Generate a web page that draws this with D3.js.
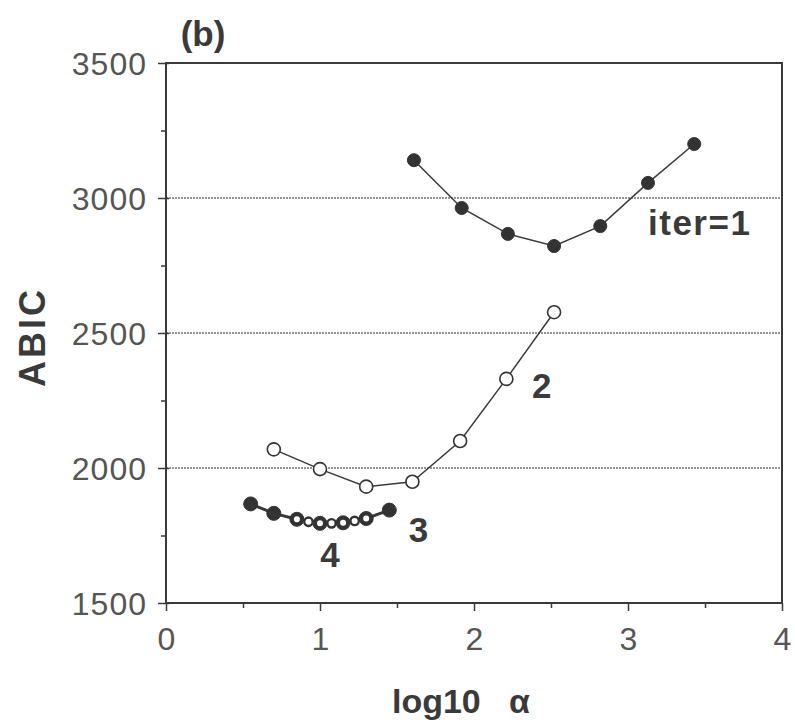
<!DOCTYPE html>
<html>
<head>
<meta charset="utf-8">
<script src="https://cdn.jsdelivr.net/npm/d3@7"></script>
<style>
  body { margin: 0; background: #fff; }
  svg text { font-family: "Liberation Sans", Arial, sans-serif; }
</style>
</head>
<body>
<div id="chart"></div>
<script>
// values (x = log10 alpha, y = ABIC)
var iter1X = [1.61, 1.92, 2.22, 2.52, 2.82, 3.13, 3.43];
var iter1Y = [3140, 2963, 2867, 2822, 2896, 3056, 3200];
var iter2X = [0.70, 1.00, 1.30, 1.60, 1.91, 2.21, 2.52];
var iter2Y = [2069, 1996, 1931, 1949, 2100, 2330, 2577];
var iter3X = [0.55, 0.70, 0.85, 1.00, 1.15, 1.30, 1.45];
var iter3Y = [1867, 1832, 1810, 1795, 1797, 1813, 1844];
var iter4X = [0.85, 0.925, 1.00, 1.075, 1.15, 1.225, 1.30];
var iter4Y = [1810, 1801, 1795, 1795, 1797, 1804, 1813];

var xTicks = [0, 1, 2, 3, 4];
var xMinor = [0.5, 1.5, 2.5, 3.5];
var yTicks = [1500, 2000, 2500, 3000, 3500];
var yMinor = [1750, 2250, 2750, 3250];
var gridVals = [2000, 2500, 3000];

var W = 795, H = 723;
var ink = "#3a3a3a";

var svg = d3.select("#chart").append("svg")
    .attr("width", W)
    .attr("height", H);

var x = d3.scaleLinear().domain([0, 4]).range([166, 782]);
var y = d3.scaleLinear().domain([1500, 3500]).range([603, 63]);

function pts(xs, ys) { return xs.map(function(v, i) { return [v, ys[i]]; }); }

// grid lines (dotted)
svg.append("g").selectAll("line")
  .data(gridVals)
  .enter().append("line")
    .attr("x1", x(0)).attr("x2", x(4))
    .attr("y1", function(d) { return y(d); })
    .attr("y2", function(d) { return y(d); })
    .attr("stroke", "#707070")
    .attr("stroke-width", 1.3)
    .attr("stroke-dasharray", "2,1");

// minor ticks
svg.append("g")
    .attr("transform", "translate(0," + y(1500) + ")")
    .call(d3.axisBottom(x).tickValues(xMinor).tickSize(5).tickFormat(""))
    .call(function(g) { g.select(".domain").remove(); })
    .selectAll("line").attr("stroke", ink).attr("stroke-width", 1.5);
svg.append("g")
    .attr("transform", "translate(" + x(0) + ",0)")
    .call(d3.axisLeft(y).tickValues(yMinor).tickSize(5).tickFormat(""))
    .call(function(g) { g.select(".domain").remove(); })
    .selectAll("line").attr("stroke", ink).attr("stroke-width", 1.5);

// major axes
var xAxis = svg.append("g")
    .attr("transform", "translate(0," + y(1500) + ")")
    .call(d3.axisBottom(x).tickValues(xTicks).tickSize(8).tickPadding(10).tickFormat(d3.format("d")));
var yAxis = svg.append("g")
    .attr("transform", "translate(" + x(0) + ",0)")
    .call(d3.axisLeft(y).tickValues(yTicks).tickSize(8).tickPadding(11).tickFormat(d3.format("d")));

[xAxis, yAxis].forEach(function(g) {
  g.select(".domain").remove();
  g.selectAll("line").attr("stroke", ink).attr("stroke-width", 1.5);
  g.selectAll("text")
    .attr("fill", "#555")
    .style("font-size", "32px");
});
yAxis.selectAll("line").attr("x1", 3);
yAxis.selectAll("text").attr("dy", "0.36em").style("letter-spacing", "1px");
xAxis.selectAll("text").attr("dy", "0.9em");

// frame
svg.append("rect")
    .attr("x", x(0)).attr("y", y(3500))
    .attr("width", x(4) - x(0))
    .attr("height", y(1500) - y(3500))
    .attr("fill", "none")
    .attr("stroke", ink)
    .attr("stroke-width", 2);

var line = d3.line()
    .x(function(d) { return x(d[0]); })
    .y(function(d) { return y(d[1]); });

function drawSeries(data, lw, r, filled, sw) {
  var g = svg.append("g");
  g.append("path")
    .datum(data)
    .attr("d", line)
    .attr("fill", "none")
    .attr("stroke", ink)
    .attr("stroke-width", lw);
  g.selectAll("circle")
    .data(data)
    .enter().append("circle")
      .attr("cx", function(d) { return x(d[0]); })
      .attr("cy", function(d) { return y(d[1]); })
      .attr("r", r)
      .attr("fill", filled ? "#333" : "#fff")
      .attr("stroke", "#333")
      .attr("stroke-width", sw);
}

drawSeries(pts(iter1X, iter1Y), 1.5, 6.5, true, 1);
drawSeries(pts(iter2X, iter2Y), 1.5, 6.5, false, 1.6);
drawSeries(pts(iter3X, iter3Y), 3, 7, true, 1);
drawSeries(pts(iter4X, iter4Y), 2, 4.2, false, 2.4);

// series labels
var labels = [
  { t: "iter=1", x: 3.13, y: 2863, a: "start" },
  { t: "2", x: 2.44, y: 2259, a: "middle" },
  { t: "3", x: 1.64, y: 1726, a: "middle" },
  { t: "4", x: 1.065, y: 1633, a: "middle" }
];
svg.append("g").selectAll("text")
  .data(labels)
  .enter().append("text")
    .attr("x", function(d) { return x(d.x); })
    .attr("y", function(d) { return y(d.y); })
    .attr("text-anchor", function(d) { return d.a; })
    .attr("fill", ink)
    .style("font-size", "35px")
    .style("font-weight", "bold")
    .style("letter-spacing", function(d) { return d.t.length > 1 ? "1.5px" : "0px"; })
    .text(function(d) { return d.t; });

// titles
svg.append("text")
    .attr("x", 203).attr("y", 46)
    .attr("text-anchor", "middle")
    .attr("fill", ink)
    .style("font-size", "35px")
    .style("font-weight", "bold")
    .text("(b)");

svg.append("text")
    .attr("transform", "translate(45,337) rotate(-90)")
    .attr("text-anchor", "middle")
    .attr("fill", ink)
    .style("font-size", "36px")
    .style("font-weight", "bold")
    .style("letter-spacing", "3px")
    .text("ABIC");

svg.append("text")
    .attr("x", 461).attr("y", 713)
    .attr("text-anchor", "middle")
    .attr("fill", ink)
    .style("font-size", "34px")
    .style("font-weight", "bold")
    .attr("xml:space", "preserve")
    .text("log10   α");
</script>
</body>
</html>
